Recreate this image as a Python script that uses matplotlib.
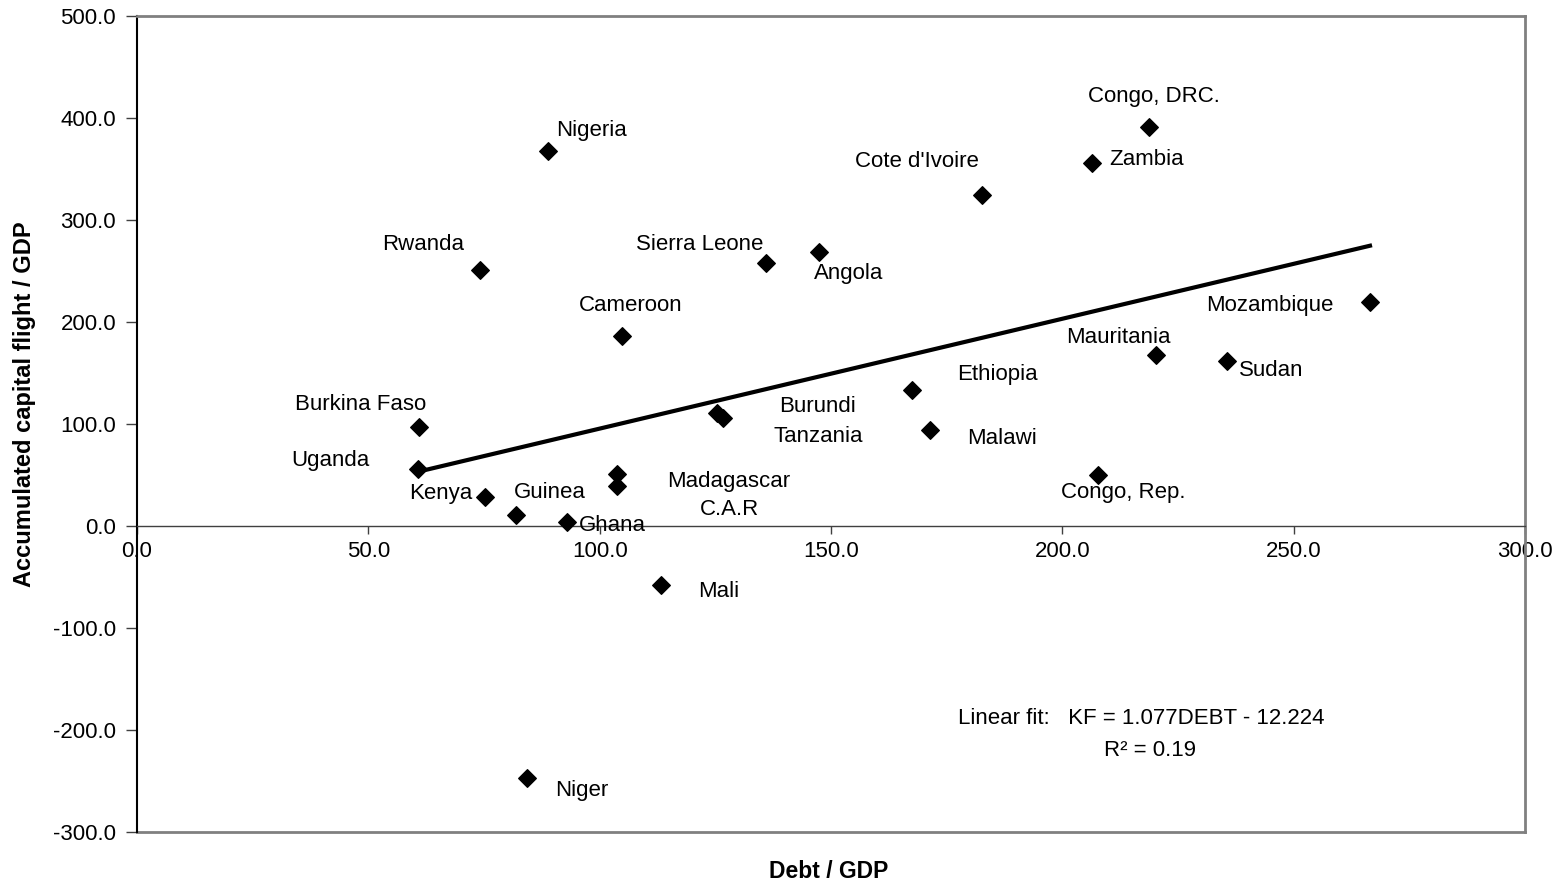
import matplotlib
matplotlib.use("Agg")
import matplotlib.pyplot as plt
import numpy as np

plt.rcParams['font.family'] = ['Liberation Sans', 'DejaVu Sans']

# data
countries = ["Uganda", "Burkina Faso", "Rwanda", "Kenya", "Guinea", "Nigeria", "Niger",
             "Ghana", "Cameroon", "Madagascar", "C.A.R", "Mali", "Burundi", "Tanzania",
             "Sierra Leone", "Angola", "Ethiopia", "Malawi", "Cote d'Ivoire", "Zambia",
             "Congo, DRC.", "Congo, Rep.", "Mauritania", "Sudan", "Mozambique"]
debt = [60.8, 61.0, 74.2, 75.3, 82.0, 88.9, 84.4,
        93.0, 104.9, 103.8, 103.8, 113.3, 125.3, 126.6,
        136.0, 147.5, 167.6, 171.5, 182.6, 206.4,
        218.7, 207.7, 220.2, 235.6, 266.5]
flight = [56.0, 97.1, 251.0, 28.4, 10.8, 367.6, -247.0,
          3.9, 186.3, 51.0, 39.2, -57.8, 110.8, 105.9,
          257.8, 268.6, 133.3, 94.1, 324.5, 355.9,
          391.2, 50.0, 167.6, 161.8, 219.6]

fit_slope = 1.077
fit_icpt = -12.224
fit_r2 = 0.19

# label offsets in pixels (layout only)
label_off = {
    "Uganda": (-88, 8), "Burkina Faso": (-59, 22), "Rwanda": (-57, 25),
    "Kenya": (-45, 4), "Guinea": (33, 22), "Nigeria": (43, 21), "Niger": (54, -13),
    "Ghana": (45, -3), "Cameroon": (8, 30), "Madagascar": (111, -8), "C.A.R": (112, -23),
    "Mali": (58, -7), "Burundi": (101, 6), "Tanzania": (96, -19),
    "Sierra Leone": (-67, 19), "Angola": (29, -21), "Ethiopia": (85, 16),
    "Malawi": (72, -8), "Cote d'Ivoire": (-65, 34), "Zambia": (55, 3),
    "Congo, DRC.": (5, 30), "Congo, Rep.": (25, -17), "Mauritania": (-37, 18),
    "Sudan": (44, -10), "Mozambique": (-100, -3),
}

fs = 16

fig = plt.figure(figsize=(15.62, 8.85), dpi=100)
ax = fig.add_axes([0.0877, 0.0599, 0.8886, 0.9220])

ax.scatter(debt, flight, marker='D', s=80, color='black', zorder=3)

xs = np.array([min(debt), max(debt)])
ax.plot(xs, fit_slope * xs + fit_icpt, color='black', lw=3, zorder=2)

for name, x, y in zip(countries, debt, flight):
    dx, dy = label_off[name]
    ax.annotate(name, (x, y), xytext=(dx, dy), textcoords='offset pixels',
                ha='center', va='center', fontsize=fs)

ax.set_xlim(0, 300)
ax.set_ylim(-300, 500)
ax.set_xticks(np.arange(0, 301, 50))
ax.set_yticks(np.arange(-300, 501, 100))
ax.set_xticklabels([f"{v:.1f}" for v in np.arange(0, 301, 50)])
ax.set_yticklabels([f"{v:.1f}" for v in np.arange(-300, 501, 100)])
ax.tick_params(axis='x', direction='out', length=6, width=1, color='#404040', pad=5, labelsize=fs)
ax.tick_params(axis='y', direction='out', length=8, width=1, color='#404040', pad=7, labelsize=fs)

ax.spines['bottom'].set_position(('data', 0))
ax.spines['bottom'].set_color('#404040')
ax.spines['bottom'].set_linewidth(1)
ax.spines['left'].set_color('black')
ax.spines['left'].set_linewidth(1.5)
for s in ['top', 'right']:
    ax.spines[s].set_color('#808080')
    ax.spines[s].set_linewidth(2)
ax.axhline(-300, color='#808080', lw=2, clip_on=False, zorder=1)

fig.text(0.5305, 0.0158, "Debt / GDP", ha='center', va='center', fontsize=16.5, fontweight='bold')
fig.text(0.0154, 0.5435, "Accumulated capital flight / GDP", ha='center', va='center',
         rotation=90, fontsize=17, fontweight='bold')

ax.annotate(f"Linear fit:   KF = {fit_slope:.3f}DEBT - {abs(fit_icpt):.3f}", (1141, 167),
            xycoords='figure pixels', ha='center', va='center', fontsize=fs)
ax.annotate(f"R\u00b2 = {fit_r2:.2f}", (1150, 135),
            xycoords='figure pixels', ha='center', va='center', fontsize=fs)

plt.savefig("out.png", dpi=100)
